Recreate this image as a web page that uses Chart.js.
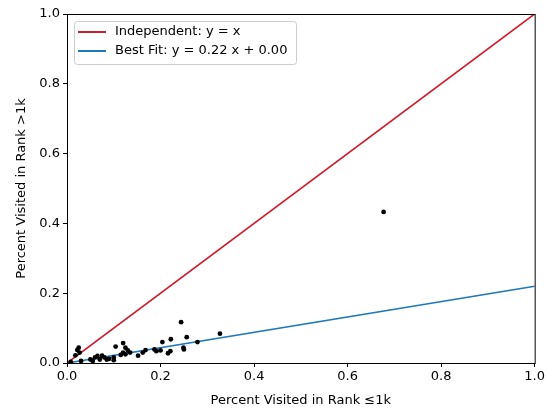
<!DOCTYPE html>
<html>
<head>
<meta charset="utf-8">
<script src="https://cdn.jsdelivr.net/npm/chart.js@4.4.0/dist/chart.umd.min.js"></script>
<style>
  html, body { margin:0; padding:0; background:#fff; }
  #wrap { width:547px; height:408px; }
</style>
</head>
<body>
<div id="wrap"><canvas id="scatterChart"></canvas></div>
<script>
// values
const xVals = [0.008,0.018,0.022,0.025,0.027,0.03,0.05,0.055,0.06,0.065,0.07,0.075,0.08,0.085,0.09,0.1,0.1,0.104,
  0.115,0.12,0.12,0.125,0.125,0.13,0.135,0.152,0.162,0.168,0.187,0.191,0.2,0.204,0.216,0.221,0.222,
  0.244,0.249,0.25,0.256,0.279,0.327,0.677];
const yVals = [0.003,0.022,0.037,0.044,0.03,0.006,0.01,0.006,0.016,0.02,0.01,0.021,0.016,0.01,0.012,0.008,0.016,0.047,
  0.023,0.057,0.03,0.044,0.025,0.036,0.03,0.021,0.03,0.037,0.039,0.034,0.036,0.06,0.028,0.034,0.068,
  0.117,0.044,0.039,0.074,0.06,0.084,0.433];
const lineX = [0, 1];
const fitSlope = 0.22, fitIntercept = 0.00;
const xTicks = [0, 0.2, 0.4, 0.6, 0.8, 1.0];
const yTicks = [0, 0.2, 0.4, 0.6, 0.8, 1.0];
const legendLabels = ['Independent: y = x', 'Best Fit: y = 0.22 x + 0.00'];
const RED = '#d01c2c', BLUE = '#1f78b8';

Chart.defaults.font.family = "'DejaVu Sans', sans-serif";
Chart.defaults.font.size = 13;
Chart.defaults.color = '#000';

const points = xVals.map((x, i) => ({ x: x, y: yVals[i] }));

// box + in-plot legend like matplotlib
const frameAndLegend = {
  id: 'frameAndLegend',
  afterDatasetsDraw(chart) {
    const { ctx, chartArea: a } = chart;
    ctx.save();
    ctx.strokeStyle = '#000';
    ctx.lineWidth = 1;
    ctx.strokeRect(a.left + 0.5, a.top + 0.5, a.right - a.left, a.bottom - a.top);
    // legend
    const bx = a.left + 7, by = a.top + 7, bw = 222, bh = 43;
    ctx.fillStyle = 'rgba(255,255,255,0.8)';
    ctx.strokeStyle = '#cccccc';
    ctx.beginPath();
    ctx.roundRect(bx + 0.5, by + 0.5, bw, bh, 3);
    ctx.fill(); ctx.stroke();
    const cols = [RED, BLUE];
    ctx.font = "13px 'DejaVu Sans'";
    ctx.textBaseline = 'middle';
    legendLabels.forEach((t, i) => {
      const y = by + 11 + i * 19;
      ctx.strokeStyle = cols[i];
      ctx.lineWidth = 2;
      ctx.beginPath(); ctx.moveTo(bx + 4, y); ctx.lineTo(bx + 32, y); ctx.stroke();
      ctx.fillStyle = '#000';
      ctx.fillText(t, bx + 41, y);
    });
    ctx.restore();
  }
};

new Chart(document.getElementById('scatterChart'), {
  type: 'scatter',
  data: {
    datasets: [
      { type:'line', label: legendLabels[0], data: lineX.map(x => ({ x: x, y: x })),
        borderColor: RED, borderWidth: 1.7, pointRadius: 0, order: 2 },
      { type:'line', label: legendLabels[1], data: lineX.map(x => ({ x: x, y: fitSlope * x + fitIntercept })),
        borderColor: BLUE, borderWidth: 1.7, pointRadius: 0, order: 1 },
      { label: 'points', data: points, backgroundColor: '#000', borderColor: '#000',
        pointRadius: 2.4, borderWidth: 0, order: 0 }
    ]
  },
  options: {
    responsive: true, maintainAspectRatio: false, animation: false,
    layout: { padding: { top: 14, right: 9, left: 14, bottom: 0 } },
    plugins: { legend: { display: false }, tooltip: { enabled: false } },
    scales: {
      x: {
        type: 'linear', min: 0, max: 1,
        afterBuildTicks: s => { s.ticks = xTicks.map(v => ({ value: v })); },
        afterFit: s => { s.height = 45; },
        ticks: { callback: v => v.toFixed(1), maxRotation: 0, padding: 2 },
        grid: { drawOnChartArea: false, drawTicks: true, tickLength: 4, color: '#000' },
        border: { color: '#000' },
        title: { display: true, text: 'Percent Visited in Rank ≤1k', padding: { top: 1, bottom: 0 } }
      },
      y: {
        type: 'linear', min: 0, max: 1,
        afterBuildTicks: s => { s.ticks = yTicks.map(v => ({ value: v })); },
        afterFit: s => { s.width = 53; },
        ticks: { callback: v => v.toFixed(1), padding: 3 },
        grid: { drawOnChartArea: false, drawTicks: true, tickLength: 4, color: '#000' },
        border: { color: '#000' },
        title: { display: true, text: 'Percent Visited in Rank >1k', padding: { top: 0, bottom: 4 } }
      }
    }
  },
  plugins: [frameAndLegend]
});
</script>
</body>
</html>
